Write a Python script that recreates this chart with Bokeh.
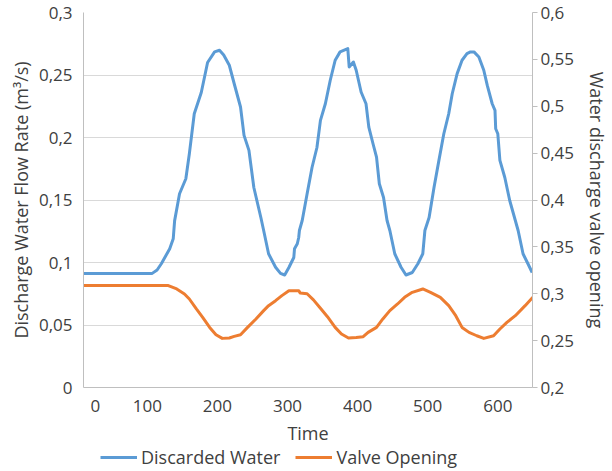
import math
from bokeh.plotting import figure
from bokeh.layouts import column
from bokeh.models import (Range1d, LinearAxis, FixedTicker, CustomJSTickFormatter,
                          Legend, LegendItem)
from bokeh.embed import file_html
from bokeh.resources import INLINE

# ---------------- data ----------------
time_water = [9, 107, 114, 120, 127, 132, 137, 139, 146, 155,
              160, 167, 177, 186, 196, 203, 209, 217, 224, 233,
              238, 245, 252, 262, 266, 273, 283, 290, 296, 302,
              309, 310, 314, 316, 317, 321, 328, 335, 342, 347,
              354, 361, 368, 375, 386, 388, 394, 398, 405, 412,
              416, 422, 427, 431, 437, 442, 446, 453, 462, 469,
              478, 486, 493, 496, 502, 509, 516, 523, 530, 535,
              542, 549, 556, 561, 566, 573, 580, 585, 592, 596,
              597, 600, 603, 610, 617, 625, 629, 636, 643, 649]
discarded_water = [0.0913, 0.0913, 0.094, 0.099, 0.106, 0.111, 0.119, 0.1335, 0.155, 0.167,
                   0.187, 0.219, 0.236, 0.260, 0.2685, 0.2698, 0.266, 0.2578, 0.243, 0.2244,
                   0.2017, 0.1897, 0.160, 0.136, 0.1256, 0.107, 0.0962, 0.0913, 0.090, 0.096,
                   0.104, 0.111, 0.115, 0.120, 0.1256, 0.1336, 0.155, 0.176, 0.192, 0.2137,
                   0.227, 0.2458, 0.2618, 0.2685, 0.2711, 0.2564, 0.2604, 0.2538, 0.2364, 0.227,
                   0.2083, 0.195, 0.1843, 0.163, 0.152, 0.1336, 0.1256, 0.107, 0.0962, 0.090,
                   0.092, 0.099, 0.107, 0.1256, 0.136, 0.160, 0.1817, 0.203, 0.219, 0.235,
                   0.2511, 0.2618, 0.2671, 0.2685, 0.2685, 0.2644, 0.2538, 0.2417, 0.227, 0.2217,
                   0.207, 0.203, 0.1817, 0.168, 0.1496, 0.1336, 0.1256, 0.107, 0.099, 0.092]

time_valve = [9, 130, 142, 153, 160, 170, 179, 189, 198, 207,
              217, 224, 233, 243, 255, 266, 273, 283, 292, 302,
              316, 318, 328, 337, 347, 357, 368, 377, 387, 398,
              408, 415, 427, 436, 446, 457, 467, 478, 493, 504,
              518, 530, 540, 549, 559, 570, 580, 594, 603, 613,
              625, 639, 650]
valve_opening = [0.3087, 0.3087, 0.3051, 0.2998, 0.2944, 0.2838, 0.2748, 0.2641, 0.2563, 0.2524,
                 0.2528, 0.2545, 0.2563, 0.2641, 0.2731, 0.282, 0.2873, 0.2926, 0.298, 0.3033,
                 0.3033, 0.3009, 0.3000, 0.2935, 0.2845, 0.2755, 0.2641, 0.257, 0.2528, 0.2534,
                 0.2542, 0.2588, 0.2641, 0.2731, 0.282, 0.2891, 0.2962, 0.3015, 0.3051, 0.3015,
                 0.2962, 0.2873, 0.2766, 0.2641, 0.2588, 0.2552, 0.2524, 0.2552, 0.2624, 0.2695,
                 0.2766, 0.2873, 0.2962]

x_tick_values = [26, 100, 200, 300, 400, 500, 600]
x_tick_labels = ["0", "100", "200", "300", "400", "500", "600"]
left_ticks = [0, 0.05, 0.1, 0.15, 0.2, 0.25, 0.3]
right_ticks = [0.2, 0.25, 0.3, 0.35, 0.4, 0.45, 0.5, 0.55, 0.6]
series_names = ["Discarded Water", "Valve Opening"]

# ---------------- style ----------------
FONT = "Open Sans"
TXT = "#404040"
AXC = "#bfbfbf"
BLUE = "#5B9BD5"
ORANGE = "#ED7D31"
TICK_FS = "17px"
TITLE_FS = "18px"

comma_fmt = CustomJSTickFormatter(code="""
var s = (Math.round(tick*100)/100).toString();
return s.replace('.', ',');
""")

p = figure(width=612, height=447, output_backend="svg", toolbar_location=None,
           x_range=Range1d(9, 649.5), y_range=Range1d(0, 0.3),
           min_border_left=83, min_border_right=76, min_border_top=12, min_border_bottom=60)
p.outline_line_color = None
p.background_fill_color = "white"
p.border_fill_color = "white"
p.xgrid.visible = False
p.ygrid.grid_line_color = "#d9d9d9"
p.ygrid.grid_line_width = 1
p.ygrid.ticker = FixedTicker(ticks=left_ticks)

p.extra_y_ranges = {"valve": Range1d(0.2, 0.6)}

# left axis
ya = p.yaxis[0]
ya.ticker = FixedTicker(ticks=left_ticks)
ya.formatter = comma_fmt
ya.axis_label = "Discharge Water Flow Rate (m³/s)"
ya.axis_line_color = AXC
ya.major_tick_line_color = None
ya.minor_tick_line_color = None
ya.major_tick_out = 0
ya.major_tick_in = 0
ya.major_label_standoff = 11
ya.axis_label_standoff = 3

# bottom axis
xa = p.xaxis[0]
xa.ticker = FixedTicker(ticks=x_tick_values)
xa.major_label_overrides = {v: l for v, l in zip(x_tick_values, x_tick_labels)}
xa.axis_label = "Time"
xa.axis_line_color = AXC
xa.major_tick_line_color = None
xa.minor_tick_line_color = None
xa.major_tick_out = 0
xa.major_tick_in = 0
xa.major_label_standoff = 12
xa.axis_label_standoff = 6

# right axis
ra = LinearAxis(y_range_name="valve", ticker=FixedTicker(ticks=right_ticks), formatter=comma_fmt,
                axis_label="Water discharge valve opening")
ra.axis_line_color = AXC
ra.major_tick_line_color = AXC
ra.minor_tick_line_color = None
ra.major_tick_out = 5
ra.major_tick_in = 0
ra.major_label_standoff = 3
ra.axis_label_standoff = 8
p.add_layout(ra, "right")

for ax in (xa, ya, ra):
    ax.major_label_text_font = FONT
    ax.major_label_text_font_size = TICK_FS
    ax.major_label_text_color = TXT
    ax.axis_label_text_font = FONT
    ax.axis_label_text_font_size = TITLE_FS
    ax.axis_label_text_color = TXT
    ax.axis_label_text_font_style = "normal"

p.line(time_water, discarded_water, line_color=BLUE, line_width=3, line_join="round")
p.line(time_valve, valve_opening, line_color=ORANGE, line_width=3, line_join="round",
       y_range_name="valve")

# legend strip below the chart
lg = figure(width=612, height=24, output_backend="svg", toolbar_location=None,
            x_axis_type=None, y_axis_type=None, min_border=0,
            x_range=Range1d(0, 1), y_range=Range1d(0, 1))
lg.outline_line_color = None
lg.grid.visible = False
# the series lie outside this strip's ranges, so only their legend swatches show
k1 = lg.line(time_water, discarded_water, line_color=BLUE, line_width=3)
k2 = lg.line(time_valve, valve_opening, line_color=ORANGE, line_width=3)
legend = Legend(items=[LegendItem(label=series_names[0], renderers=[k1]),
                       LegendItem(label=series_names[1], renderers=[k2])],
                orientation="horizontal", location=(17, 2))
legend.border_line_color = None
legend.background_fill_alpha = 0
legend.padding = 0
legend.margin = 0
legend.spacing = 15
legend.glyph_width = 37
legend.glyph_height = 20
legend.label_height = 20
legend.label_standoff = 4
legend.label_text_font = FONT
legend.label_text_font_size = TITLE_FS
legend.label_text_color = TXT
lg.add_layout(legend)

open("out.html", "w").write(file_html(column(p, lg, spacing=0), INLINE))
